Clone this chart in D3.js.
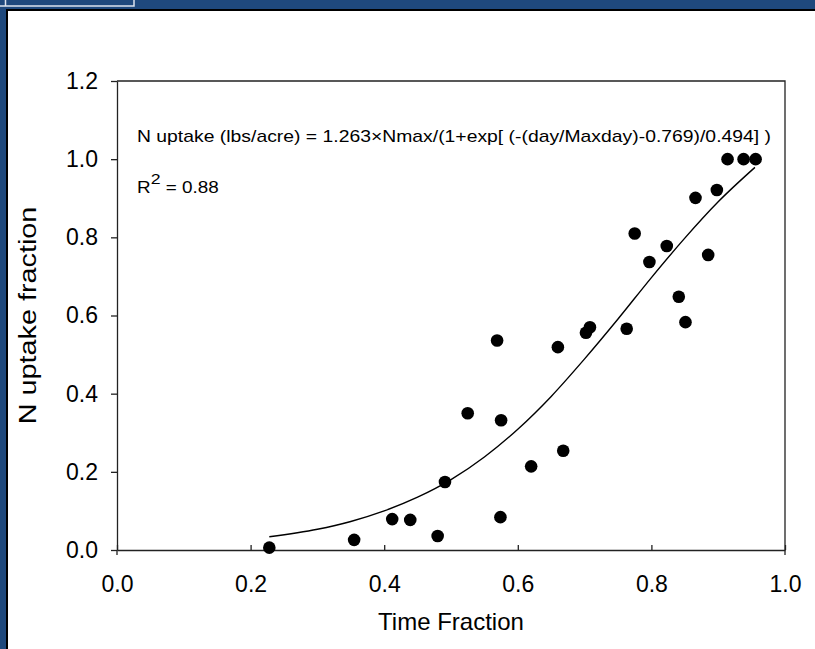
<!DOCTYPE html>
<html>
<head>
<meta charset="utf-8">
<script src="https://cdn.jsdelivr.net/npm/d3@7.9.0/dist/d3.min.js"></script>
<style>
  body { margin: 0; background: #fff; }
  svg { display: block; font-family: "Liberation Sans", Arial, sans-serif; }
</style>
</head>
<body>
<svg id="chart" width="815" height="649"></svg>
<script>
// observed points (time fraction, N uptake fraction)
const timeFrac = [0.228, 0.355, 0.412, 0.439, 0.480, 0.491, 0.574, 0.525, 0.569, 0.575,
                  0.620, 0.660, 0.668, 0.702, 0.708, 0.763, 0.775, 0.797, 0.823, 0.841,
                  0.851, 0.866, 0.885, 0.898, 0.914, 0.938, 0.956];
const uptakeFrac = [0.006, 0.026, 0.079, 0.077, 0.036, 0.174, 0.084, 0.350, 0.536, 0.332,
                    0.214, 0.519, 0.254, 0.556, 0.570, 0.566, 0.810, 0.737, 0.778, 0.648,
                    0.583, 0.901, 0.755, 0.921, 1.000, 1.000, 1.000];

// fitted curve
const fitX = [0.228, 0.30, 0.35, 0.40, 0.45, 0.50, 0.55, 0.60, 0.65, 0.70, 0.75, 0.80, 0.85, 0.90, 0.955];
const fitY = [0.034, 0.053, 0.073, 0.100, 0.135, 0.180, 0.238, 0.309, 0.393, 0.489, 0.591, 0.697, 0.798, 0.891, 0.979];

const xTicks = [0, 0.2, 0.4, 0.6, 0.8, 1.0];
const yTicks = [0, 0.2, 0.4, 0.6, 0.8, 1.0, 1.2];

const svg = d3.select('#chart');
const BLUE = '#1f497d';
const AXIS = '#222';

// slide frame
svg.append('rect').attr('width', 815).attr('height', 649).attr('fill', '#fff');
svg.append('rect').attr('x', 0).attr('y', 0).attr('width', 815).attr('height', 9).attr('fill', BLUE);
svg.append('rect').attr('x', 0).attr('y', 0).attr('width', 6).attr('height', 649).attr('fill', BLUE);
svg.append('rect').attr('x', 6).attr('y', 9).attr('width', 809).attr('height', 2).attr('fill', '#000');
svg.append('rect').attr('x', 6).attr('y', 9).attr('width', 2).attr('height', 640).attr('fill', '#000');
svg.append('path')
  .attr('d', 'M0,6 H134 V0 M5.5,0 V6')
  .attr('fill', 'none').attr('stroke', '#dde4ee').attr('stroke-width', 1.5);

// scales
const x = d3.scaleLinear().domain([0, 1]).range([117, 785]);
const y = d3.scaleLinear().domain([0, 1.2]).range([550, 81]);

// x axis, ticks pointing inward
const xAxis = svg.append('g')
  .attr('transform', `translate(0,${y(0)})`)
  .call(d3.axisBottom(x).tickValues(xTicks).tickFormat(d3.format('.1f'))
    .tickSizeInner(-5).tickSizeOuter(0).tickPadding(26));
xAxis.selectAll('text').attr('font-size', 23).attr('fill', '#000').attr('font-family', null);

// y axis, ticks pointing outward
const yAxis = svg.append('g')
  .attr('transform', `translate(${x(0)},0)`)
  .call(d3.axisLeft(y).tickValues(yTicks).tickFormat(d3.format('.1f'))
    .tickSizeInner(6).tickSizeOuter(0).tickPadding(13));
yAxis.selectAll('text').attr('font-size', 23).attr('fill', '#000').attr('font-family', null);

svg.selectAll('.domain, .tick line').attr('stroke', AXIS).attr('stroke-width', 1.3);

// top and right frame lines, plus the small overhang below the x axis
svg.append('path')
  .attr('d', `M${x(0)},${y(1.2)} H${x(1)} V${y(0) + 5} M${x(0)},${y(0)} V${y(0) + 5}`)
  .attr('fill', 'none').attr('stroke', AXIS).attr('stroke-width', 1.3);

// fitted curve
const fit = fitX.map((d, i) => [d, fitY[i]]);
svg.append('path')
  .datum(fit)
  .attr('d', d3.line().x(d => x(d[0])).y(d => y(d[1])).curve(d3.curveMonotoneX))
  .attr('fill', 'none').attr('stroke', '#000').attr('stroke-width', 1.4);

// points
svg.append('g').selectAll('circle')
  .data(timeFrac.map((d, i) => [d, uptakeFrac[i]]))
  .join('circle')
  .attr('cx', d => x(d[0]))
  .attr('cy', d => y(d[1]))
  .attr('r', 6.3)
  .attr('fill', '#000');

// annotations (text in the original is a bit wider than plain Arial)
svg.append('text')
  .attr('transform', 'translate(137,142) scale(1.21,1)')
  .attr('font-size', 16)
  .text('N uptake (lbs/acre) = 1.263×Nmax/(1+exp[ (-(day/Maxday)-0.769)/0.494] )');

const r2 = svg.append('text')
  .attr('transform', 'translate(137,193) scale(1.18,1)')
  .attr('font-size', 16);
r2.append('tspan').text('R');
r2.append('tspan').attr('dy', -9).attr('font-size', 15).text('2');
r2.append('tspan').attr('dy', 9).text(' = 0.88');

// axis titles
svg.append('text')
  .attr('x', (x(0) + x(1)) / 2).attr('y', 630)
  .attr('text-anchor', 'middle').attr('font-size', 24)
  .text('Time Fraction');

svg.append('text')
  .attr('transform', `translate(36,${(y(0) + y(1.2)) / 2}) rotate(-90) scale(1.2,1)`)
  .attr('text-anchor', 'middle').attr('font-size', 24)
  .text('N uptake fraction');
</script>
</body>
</html>
